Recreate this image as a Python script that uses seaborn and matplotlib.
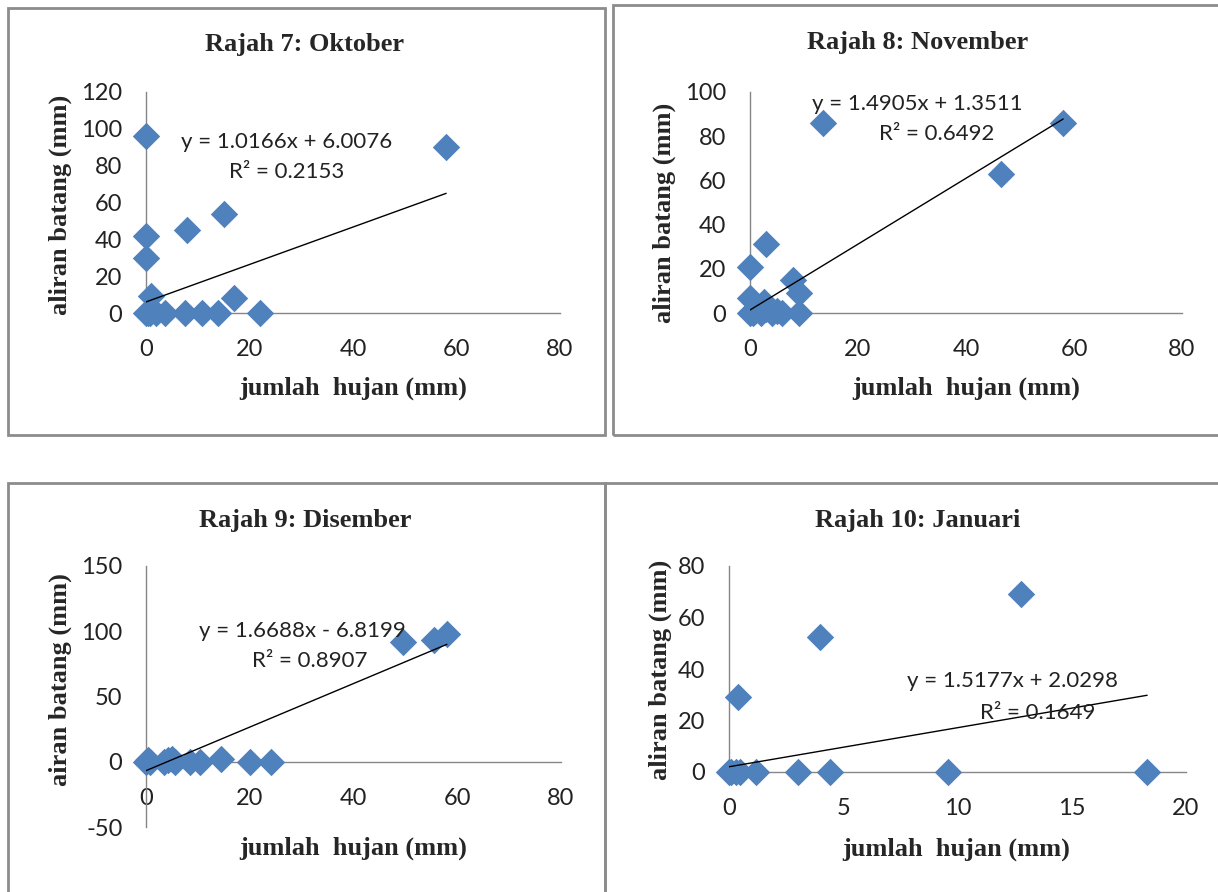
import numpy as np
import pandas as pd
import seaborn as sns
import matplotlib
matplotlib.use("Agg")
import matplotlib.pyplot as plt
from matplotlib.patches import Rectangle

# ---------------- data ----------------
titles = ["Rajah 7: Oktober", "Rajah 8: November", "Rajah 9: Disember", "Rajah 10: Januari"]
xlabels = ["jumlah  hujan (mm)"] * 4
ylabels = ["aliran batang (mm)", "aliran batang (mm)", "airan batang (mm)", "aliran batang (mm)"]

oct_x = [0, 0.3, 0.8, 2, 3.7, 7.5, 10.8, 14, 0, 0, 0, 1, 8, 15, 17, 22, 58]
oct_y = [0, 0, 0, 0, 0, 0, 0, 0, 96, 42, 30, 9, 45, 54, 8, 0, 90]

nov_x = [0, 0.5, 1, 2, 3, 4, 5, 6, 9, 0, 2.5, 0, 3, 8, 9, 13.5, 46.5, 58]
nov_y = [0, 0, 1, 0, 2, 0, 1, 0, 0, 7, 5, 21, 31, 15, 9, 86, 63, 86]

dec_x = [0, 0.3, 0.8, 3.5, 4.2, 5, 5.5, 8.5, 10.5, 14.5, 20, 24, 49.5, 55.5, 58]
dec_y = [0, 1, 0, 0, 1, 2, 0, 0, 0, 2, 0, 0, 92, 93, 98]

jan_x = [0, 0.1, 0.3, 0.5, 0.4, 1.2, 3, 4.4, 4, 9.6, 12.8, 18.3]
jan_y = [0, 0, 0, 0, 29, 0, 0, 0, 52.5, 0, 69, 0]

slopes = [1.0166, 1.4905, 1.6688, 1.5177]
intercepts = [6.0076, 1.3511, -6.8199, 2.0298]
eq_texts = ["y = 1.0166x + 6.0076", "y = 1.4905x + 1.3511", "y = 1.6688x - 6.8199", "y = 1.5177x + 2.0298"]
r2_texts = ["R² = 0.2153", "R² = 0.6492", "R² = 0.8907", "R² = 0.1649"]

x_ticks = [[0, 20, 40, 60, 80], [0, 20, 40, 60, 80], [0, 20, 40, 60, 80], [0, 5, 10, 15, 20]]
y_ticks = [[0, 20, 40, 60, 80, 100, 120], [0, 20, 40, 60, 80, 100],
           [-50, 0, 50, 100, 150], [0, 20, 40, 60, 80]]

# ---------------- style ----------------
sns.set_style("white")
plt.rcParams["axes.unicode_minus"] = False
W, H = 1218, 892
fig = plt.figure(figsize=(W / 100, H / 100), dpi=100)

TICK_FONT = "Lato"
SERIF = "Liberation Serif"
GRAY = "#868686"
BLUE = "#4F81BD"

# axes rectangles in pixel coords: (left, right, y_top_px, y_bottom_px)
ax_px = [(146, 560, 92, 313), (750, 1182, 92, 313), (146, 561, 566, 827), (729, 1186, 566, 772)]
title_pos = [(305, 45), (918, 43), (305, 520), (918, 520)]
xlabel_pos = [(353, 388), (966, 388), (353, 848), (956, 849)]
ylabel_pos = [(60, 205), (664, 213), (60, 680), (660, 670)]
eq_pos = [((27.2, 93), (27.2, 76.5)), ((31, 94.6), (34.6, 81)),
          ((30.2, 100), (31.6, 77)), ((12.4, 35.4), (13.5, 23))]
boxes = [(8, 8, 605, 435), (613, 5, 1225, 435), (8, 483, 605, 900), (605, 483, 1225, 900)]

datasets = [(oct_x, oct_y), (nov_x, nov_y), (dec_x, dec_y), (jan_x, jan_y)]

for b in boxes:
    x0, y0, x1, y1 = b
    fig.add_artist(Rectangle((x0 / W, 1 - y1 / H), (x1 - x0) / W, (y1 - y0) / H,
                             transform=fig.transFigure, fill=False,
                             edgecolor="#8c8c8c", linewidth=2))

for i, (xs, ys) in enumerate(datasets):
    l, r, t, b = ax_px[i]
    ax = fig.add_axes([l / W, 1 - b / H, (r - l) / W, (b - t) / H])
    ax.set_facecolor("none")
    df = pd.DataFrame({"x": xs, "y": ys})
    sns.scatterplot(data=df, x="x", y="y", marker="D", s=195, color=BLUE,
                    edgecolor=BLUE, linewidth=0, ax=ax, clip_on=False, zorder=3)
    xl = np.array([min(xs), max(xs)])
    ax.plot(xl, slopes[i] * xl + intercepts[i], color="black", linewidth=1, zorder=4)

    ax.set_xlim(x_ticks[i][0], x_ticks[i][-1])
    ax.set_ylim(y_ticks[i][0], y_ticks[i][-1])
    ax.set_xticks(x_ticks[i])
    ax.set_yticks(y_ticks[i])
    for s in ["top", "right"]:
        ax.spines[s].set_visible(False)
    for s in ["left", "bottom"]:
        ax.spines[s].set_color(GRAY)
        ax.spines[s].set_linewidth(1)
    ax.spines["bottom"].set_position(("data", 0))
    ax.tick_params(axis="both", direction="out", length=5, width=1, color=GRAY,
                   labelsize=17)
    ax.tick_params(axis="x", pad=14)
    ax.tick_params(axis="y", pad=12)
    for lab in ax.get_xticklabels() + ax.get_yticklabels():
        lab.set_fontfamily(TICK_FONT)
        lab.set_color("#222222")
    ax.set_xlabel("")
    ax.set_ylabel("")
    ax.grid(False)

    (ex, ey), (rx, ry) = eq_pos[i]
    ax.text(ex, ey, eq_texts[i], ha="center", va="center", fontsize=16,
            family=TICK_FONT, color="#222222", zorder=5)
    ax.text(rx, ry, r2_texts[i], ha="center", va="center", fontsize=16,
            family=TICK_FONT, color="#222222", zorder=5)

    tx, ty = title_pos[i]
    fig.text(tx / W, 1 - ty / H, titles[i], ha="center", va="center",
             fontsize=19, fontweight="bold", family=SERIF)
    lx, ly = xlabel_pos[i]
    fig.text(lx / W, 1 - ly / H, xlabels[i], ha="center", va="center",
             fontsize=19, fontweight="bold", family=SERIF)
    yx, yy = ylabel_pos[i]
    fig.text(yx / W, 1 - yy / H, ylabels[i], ha="center", va="center",
             rotation=90, fontsize=19, fontweight="bold", family=SERIF)

fig.savefig("out.png", dpi=100, facecolor="white")
